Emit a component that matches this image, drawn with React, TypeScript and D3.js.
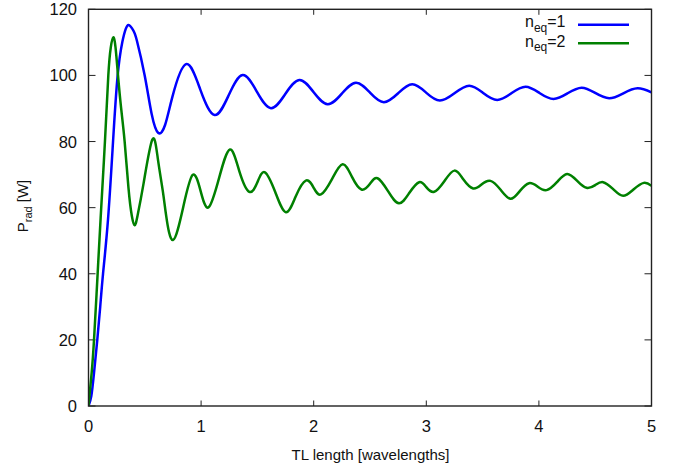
import React from "react";
import * as d3 from "d3";

const xTicks = [0, 1, 2, 3, 4, 5];
const yTicks = [0, 20, 40, 60, 80, 100, 120];

// n_eq = 1 (blue)
const blueX = [0, 0.025, 0.049, 0.078, 0.104, 0.129, 0.173, 0.218, 0.259, 0.30, 0.33, 0.36, 0.40, 0.43, 0.499, 0.56, 0.62, 0.68, 0.745, 0.866, 0.993, 1.12, 1.245, 1.369, 1.495, 1.62, 1.746, 1.872, 1.998, 2.124, 2.25, 2.375, 2.5, 2.623, 2.75, 2.875, 2.998, 3.12, 3.25, 3.381, 3.505, 3.63, 3.755, 3.881, 4.005, 4.13, 4.255, 4.379, 4.5, 4.624, 4.75, 4.876, 5.0];
const blueY = [0, 3, 10, 20, 30, 40, 56.3, 80, 100, 110, 114, 115.2, 113.5, 110.5, 100, 88.5, 82.6, 85, 93.5, 103.4, 95.7, 88.0, 94.0, 100.1, 95.1, 90.1, 94.3, 98.6, 95.0, 91.3, 94.5, 97.8, 94.8, 91.9, 94.6, 97.3, 94.8, 92.4, 94.6, 96.9, 94.7, 92.6, 94.6, 96.6, 94.7, 92.9, 94.6, 96.3, 94.7, 93.1, 94.6, 96.1, 94.9];

// n_eq = 2 (green)
const greenX = [0, 0.028, 0.049, 0.078, 0.108, 0.146, 0.176, 0.198, 0.22, 0.24, 0.262, 0.29, 0.321, 0.355, 0.385, 0.41, 0.435, 0.49, 0.567, 0.615, 0.66, 0.69, 0.75, 0.84, 0.925, 0.996, 1.067, 1.16, 1.256, 1.34, 1.428, 1.50, 1.567, 1.66, 1.753, 1.84, 1.93, 2.0, 2.064, 2.16, 2.257, 2.34, 2.424, 2.5, 2.567, 2.66, 2.757, 2.85, 2.937, 3.0, 3.07, 3.16, 3.25, 3.33, 3.416, 3.49, 3.57, 3.66, 3.748, 3.83, 3.913, 3.99, 4.068, 4.16, 4.25, 4.34, 4.423, 4.50, 4.57, 4.66, 4.748, 4.84, 4.932, 5.0];
const greenY = [0, 10, 20, 38, 57, 80, 100, 108.5, 111.5, 108.5, 100, 90, 80, 66, 57.5, 54.7, 57.5, 67.5, 80.6, 75, 65, 57.5, 50.2, 60, 69.9, 65, 60.1, 69, 77.6, 71, 64.8, 67.7, 70.7, 64.6, 58.6, 63.4, 68.2, 66, 64.0, 68.5, 73.1, 69.3, 65.5, 67.2, 68.9, 65, 61.3, 64.5, 67.7, 66.2, 64.8, 68, 71.2, 68.5, 65.8, 67, 68.1, 65.4, 62.7, 65, 67.4, 66.3, 65.3, 67.7, 70.2, 68.1, 66.0, 66.8, 67.7, 65.6, 63.6, 65.5, 67.5, 66.6];

const W = 677;
const H = 468;
const L = 88.5;
const R = 651.5;
const T = 9.3;
const B = 406;
const FONT = "'Liberation Sans', Arial, Helvetica, sans-serif";

export default function App() {
  const x = d3.scaleLinear().domain([0, 5]).range([L, R]);
  const y = d3.scaleLinear().domain([0, 120]).range([B, T]);
  const line = d3
    .line<[number, number]>()
    .x((d) => x(d[0]))
    .y((d) => y(d[1]))
    .curve(d3.curveNatural);
  const blue = line(blueX.map((v, i) => [v, blueY[i]] as [number, number])) || "";
  const green = line(greenX.map((v, i) => [v, greenY[i]] as [number, number])) || "";
  const axisColor = "#222";
  const textColor = "#111";

  return (
    <svg
      width={W}
      height={H}
      style={{ position: "absolute", left: 0, top: 0, background: "#fff" }}
      fontFamily={FONT}
    >
      <rect x={0} y={0} width={W} height={H} fill="#fff" />
      <defs>
        <clipPath id="plotclip">
          <rect x={L} y={T - 5} width={R - L} height={B - T + 5} />
        </clipPath>
      </defs>
      {/* ticks */}
      {xTicks.map((t) => (
        <g key={"xt" + t}>
          <line x1={x(t)} x2={x(t)} y1={B} y2={B - 5.5} stroke={axisColor} strokeWidth={1} />
          <line x1={x(t)} x2={x(t)} y1={T} y2={T + 5.5} stroke={axisColor} strokeWidth={1} />
          <text x={x(t)} y={432} textAnchor="middle" fontSize={16.5} fill={textColor}>
            {t}
          </text>
        </g>
      ))}
      {yTicks.map((t) => (
        <g key={"yt" + t}>
          <line x1={L} x2={L + 7} y1={y(t)} y2={y(t)} stroke={axisColor} strokeWidth={1} />
          <line x1={R} x2={R - 7} y1={y(t)} y2={y(t)} stroke={axisColor} strokeWidth={1} />
          <text x={77} y={y(t) + 6} textAnchor="end" fontSize={16.5} fill={textColor}>
            {t}
          </text>
        </g>
      ))}
      {/* curves */}
      <g clipPath="url(#plotclip)">
        <path d={blue} fill="none" stroke="#0000ff" strokeWidth={2.5} strokeLinejoin="round" />
        <path d={green} fill="none" stroke="#008000" strokeWidth={2.5} strokeLinejoin="round" />
      </g>
      {/* frame */}
      <rect x={L} y={T} width={R - L} height={B - T} fill="none" stroke={axisColor} strokeWidth={1.4} />
      {/* axis labels */}
      <text x={370.5} y={459.5} textAnchor="middle" fontSize={15} fill={textColor}>
        TL length [wavelengths]
      </text>
      <text transform="translate(27.5,206) rotate(-90)" textAnchor="middle" fontSize={15} fill={textColor}>
        <tspan>P</tspan>
        <tspan dy={4} fontSize={11}>rad</tspan>
        <tspan dy={-4}> [W]</tspan>
      </text>
      {/* legend */}
      <text x={565.5} y={27.3} textAnchor="end" fontSize={16} fill={textColor}>
        <tspan>n</tspan>
        <tspan dy={4.5} fontSize={12}>eq</tspan>
        <tspan dy={-4.5}>=1</tspan>
      </text>
      <line x1={578} x2={629} y1={24.7} y2={24.7} stroke="#0000ff" strokeWidth={2.5} />
      <text x={565.5} y={46.5} textAnchor="end" fontSize={16} fill={textColor}>
        <tspan>n</tspan>
        <tspan dy={4.5} fontSize={12}>eq</tspan>
        <tspan dy={-4.5}>=2</tspan>
      </text>
      <line x1={578} x2={629} y1={43.3} y2={43.3} stroke="#008000" strokeWidth={2.5} />
    </svg>
  );
}
